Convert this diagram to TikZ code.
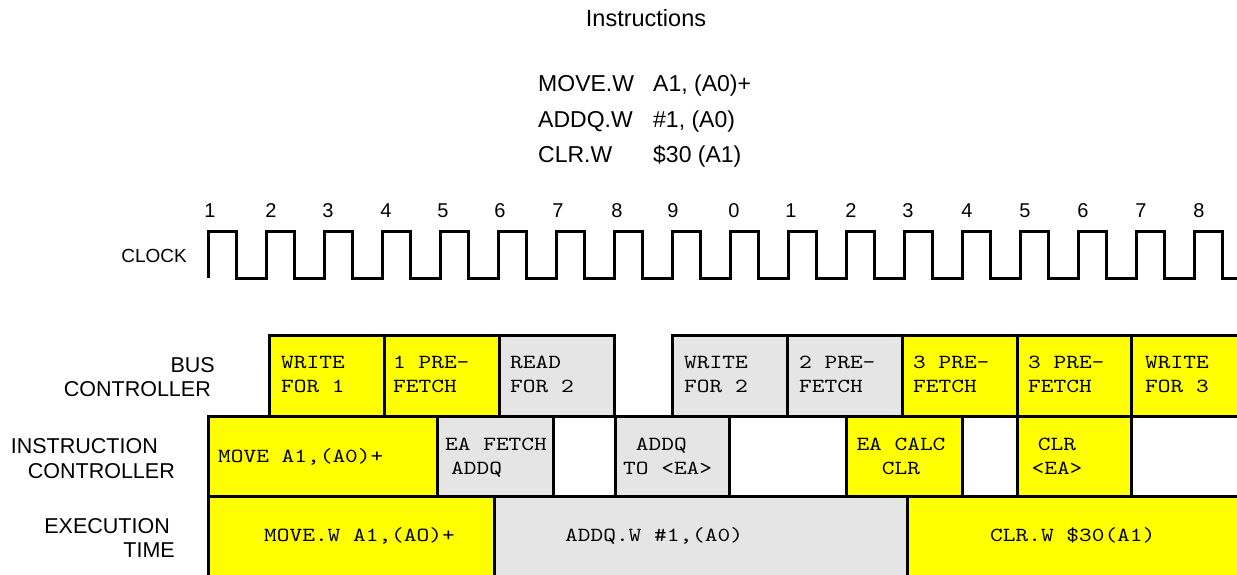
\documentclass[tikz,border=0pt]{standalone}
\usepackage{fontspec}
\setmainfont{Liberation Sans}
\newfontfamily\courfont{lmmono10-regular}[Extension=.otf,FakeStretch=1.21]
\usetikzlibrary{fit}
\definecolor{ylw}{RGB}{255,255,0}
\definecolor{gry}{RGB}{229,229,229}
\newcommand\mkcell[6]{\node[cellbox,fill=#6,fit={(#2,#4) (#3,#5)}] (#1) {};}
\begin{document}
\begin{tikzpicture}[x=1pt,y=-1pt,
  cellbox/.style={draw=black,line width=3pt,inner sep=0pt,outer sep=0pt},
  wave/.style={draw=black,line width=3pt},
  lab/.style={font=\fontsize{21.5}{24}\selectfont,inner sep=0pt,anchor=base east},
  clklab/.style={font=\fontsize{19}{22}\selectfont,inner sep=0pt,anchor=base east},
  title/.style={font=\fontsize{23.5}{26}\selectfont,inner sep=0pt,anchor=base},
  instr/.style={font=\fontsize{23}{26}\selectfont,inner sep=0pt,anchor=base west},
  digit/.style={font=\fontsize{20}{24}\selectfont,inner sep=0pt,anchor=base},
  mono/.style={font=\courfont\fontsize{20}{24}\selectfont,inner sep=0pt,align=left,anchor=base west},
  monoc/.style={font=\courfont\fontsize{20}{24}\selectfont,inner sep=0pt,align=center,anchor=base}]
\useasboundingbox (0,0) rectangle (1237,575);
\clip (0,0) rectangle (1237,575);
% title and instruction list
\node[title] (ttl) at (646,27) {Instructions};
\node[instr] (m1) at (538,92) {MOVE.W};
\node[instr] (m2) at (653,92) {A1, (A0)+};
\node[instr] (a1) at (538,127.5) {ADDQ.W};
\node[instr] (a2) at (653,127.5) {\#1, (A0)};
\node[instr] (c1) at (538,163) {CLR.W};
\node[instr] (c2) at (653,163) {\$30 (A1)};
% clock numbers
\foreach \x/\d [count=\i] in {210/1,271/2,328/3,386/4,443/5,500/6,558/7,617/8,673/9,734/0,791/1,851/2,908/3,967/4,1025/5,1083/6,1141/7,1199/8}
  \node[digit] (d\i) at (\x,217) {\d};
% clock
\node[clklab] (clk) at (187,262) {CLOCK};
\draw[wave] (208,278) \foreach \k in {0,...,17}{ -- ++(0,-47) -- ++(28.5,0) -- ++(0,47) -- ++(29.5,0) };
% row labels
\node[lab] (l1) at (215,372) {BUS};
\node[lab] (l2) at (211,396) {CONTROLLER};
\node[lab] (l3) at (158,453) {INSTRUCTION};
\node[lab] (l4) at (175,478) {CONTROLLER};
\node[lab] (l5) at (170,533) {EXECUTION};
\node[lab] (l6) at (175,557) {TIME};
% bus controller row
\mkcell{b1}{269}{384}{335}{416}{ylw}
\mkcell{b2}{384}{499}{335}{416}{ylw}
\mkcell{b3}{499}{614}{335}{416}{gry}
\mkcell{b4}{672}{787}{335}{416}{gry}
\mkcell{b5}{787}{902}{335}{416}{gry}
\mkcell{b6}{902}{1017}{335}{416}{ylw}
\mkcell{b7}{1017}{1131}{335}{416}{ylw}
\mkcell{b8}{1131}{1260}{335}{416}{ylw}
% instruction controller row
\mkcell{i1}{208}{437}{416}{496}{ylw}
\mkcell{i2}{437}{553}{416}{496}{gry}
\mkcell{i3}{553}{615}{416}{496}{white}
\mkcell{i4}{615}{729}{416}{496}{gry}
\mkcell{i5}{729}{846}{416}{496}{white}
\mkcell{i6}{846}{962}{416}{496}{ylw}
\mkcell{i7}{962}{1017}{416}{496}{white}
\mkcell{i8}{1017}{1131}{416}{496}{ylw}
\mkcell{i9}{1131}{1260}{416}{496}{white}
% execution row
\mkcell{e1}{208}{494}{496}{600}{ylw}
\mkcell{e2}{494}{907}{496}{600}{gry}
\mkcell{e3}{907}{1260}{496}{600}{ylw}
% bus texts (base = last line)
\node[mono] (tb1) at (281,392) {WRITE\\FOR 1};
\node[mono] (tb2) at (393,392) {1 PRE-\\FETCH};
\node[mono] (tb3) at (510,392) {READ\\FOR 2};
\node[mono] (tb4) at (684,392) {WRITE\\FOR 2};
\node[mono] (tb5) at (799,392) {2 PRE-\\FETCH};
\node[mono] (tb6) at (913,392) {3 PRE-\\FETCH};
\node[mono] (tb7) at (1028,392) {3 PRE-\\FETCH};
\node[mono] (tb8) at (1145,392) {WRITE\\FOR 3};
% instruction texts
\node[mono] (ti1) at (218,462) {MOVE A1,(A0)+};
\node[mono] (ti2) at (445,474) {EA FETCH\\\hspace*{6pt}ADDQ};
\node[mono] (ti4) at (623,474) {\phantom{T}ADDQ\\TO <EA>};
\node[monoc] (ti6) at (901,474) {EA CALC\\CLR};
\node[monoc] (ti8) at (1057,474) {CLR\\<EA>};
% execution texts
\node[mono] (te1) at (264,541) {MOVE.W A1,(AO)+};
\node[mono] (te2) at (565,541) {ADDQ.W \#1,(A0)};
\node[mono] (te3) at (990,541) {CLR.W \$30(A1)};
\end{tikzpicture}
\end{document}
